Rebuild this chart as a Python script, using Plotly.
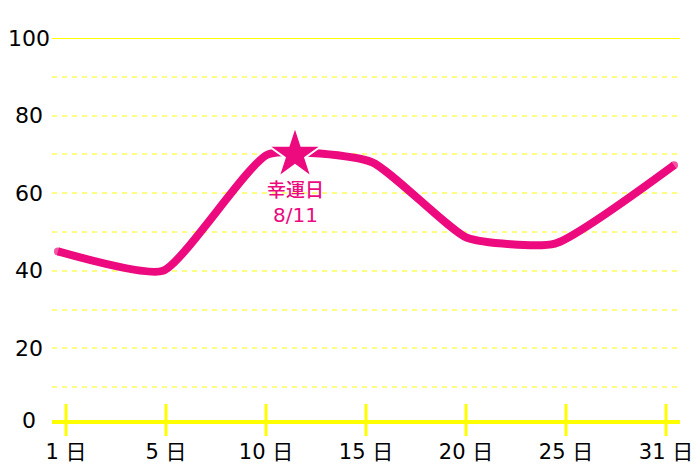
import plotly.graph_objects as go

# ---- data ----
tick_labels = ["1 日", "5 日", "10 日", "15 日", "20 日", "25 日", "31 日"]
tick_pos = [0, 1, 2, 3, 4, 5, 6]
line_x = [-0.08, 0.97, 2.02, 3.06, 4.01, 4.89, 6.08]
line_y = [45, 40, 70, 68, 48.5, 47, 67.2]
lucky_x = [2.29]
lucky_y = [70]
lucky_label = "幸運日"
lucky_date = "8/11"
grid_vals = [10, 20, 30, 40, 50, 60, 70, 80, 90]
ylabel_vals = [0, 20, 40, 60, 80, 100]

PINK = "#EC0A7E"
YEL = "#FFFF00"
LYEL = "#FFFF80"
FONT = "DejaVu Sans, Noto Sans CJK JP"
Y0 = 1.55  # bottom of the value range (where the axis line sits)

fig = go.Figure()

# tick marks crossing the axis line
fig.add_trace(go.Scatter(
    x=tick_pos, y=[Y0] * len(tick_pos), mode="markers",
    marker=dict(symbol="line-ns-open", size=23, color=YEL, line=dict(color=YEL, width=3)),
    cliponaxis=False, hoverinfo="skip", showlegend=False))

# main line
fig.add_trace(go.Scatter(
    x=line_x, y=line_y, mode="lines+markers",
    line=dict(color=PINK, width=8, shape="spline", smoothing=0.5),
    marker=dict(color=PINK, line=dict(width=0),
                size=[8 if i in (0, len(line_x) - 1) else 0 for i in range(len(line_x))]),
    cliponaxis=False, showlegend=False))

# lucky-day star
fig.add_trace(go.Scatter(
    x=lucky_x, y=lucky_y, mode="markers",
    marker=dict(symbol="star", size=40, color=PINK, line=dict(color="white", width=2)),
    cliponaxis=False, showlegend=False))

fig.add_annotation(x=lucky_x[0], y=lucky_y[0], text=lucky_label, showarrow=False,
                   yanchor="middle", yshift=-34,
                   font=dict(family="Noto Sans CJK JP", size=19, color=PINK, weight=500))
fig.add_annotation(x=lucky_x[0], y=lucky_y[0], text=lucky_date, showarrow=False,
                   yanchor="middle", yshift=-61, font=dict(family=FONT, size=20, color=PINK))

# solid top line at 100
fig.add_shape(type="line", xref="paper", x0=0, x1=1, yref="y", y0=100, y1=100,
              line=dict(color=YEL, width=2))

# y labels (centered)
for v in ylabel_vals:
    fig.add_annotation(xref="paper", x=-0.0374, yref="y", y=(Y0 if v == 0 else v),
                       text=str(v), showarrow=False, xanchor="center", yanchor="middle",
                       font=dict(family=FONT, size=22, color="black"))

fig.update_layout(
    width=692, height=459,
    margin=dict(l=44, r=20, t=30, b=47, autoexpand=False),
    paper_bgcolor="white", plot_bgcolor="white",
    font=dict(family=FONT, color="black"),
    xaxis=dict(range=[-0.14, 6.14], tickvals=tick_pos, ticktext=tick_labels, automargin=False,
               showgrid=False, zeroline=False, showline=True, linecolor=YEL, linewidth=4,
               ticks="outside", ticklen=10, tickcolor="rgba(0,0,0,0)",
               tickfont=dict(family=FONT, size=21, color="black")),
    yaxis=dict(range=[Y0, 100], tickvals=grid_vals, showticklabels=False, automargin=False,
               showgrid=True, gridcolor=LYEL, gridwidth=2, griddash="5px,5px",
               zeroline=False, showline=False),
)

fig.write_html("out.html")
